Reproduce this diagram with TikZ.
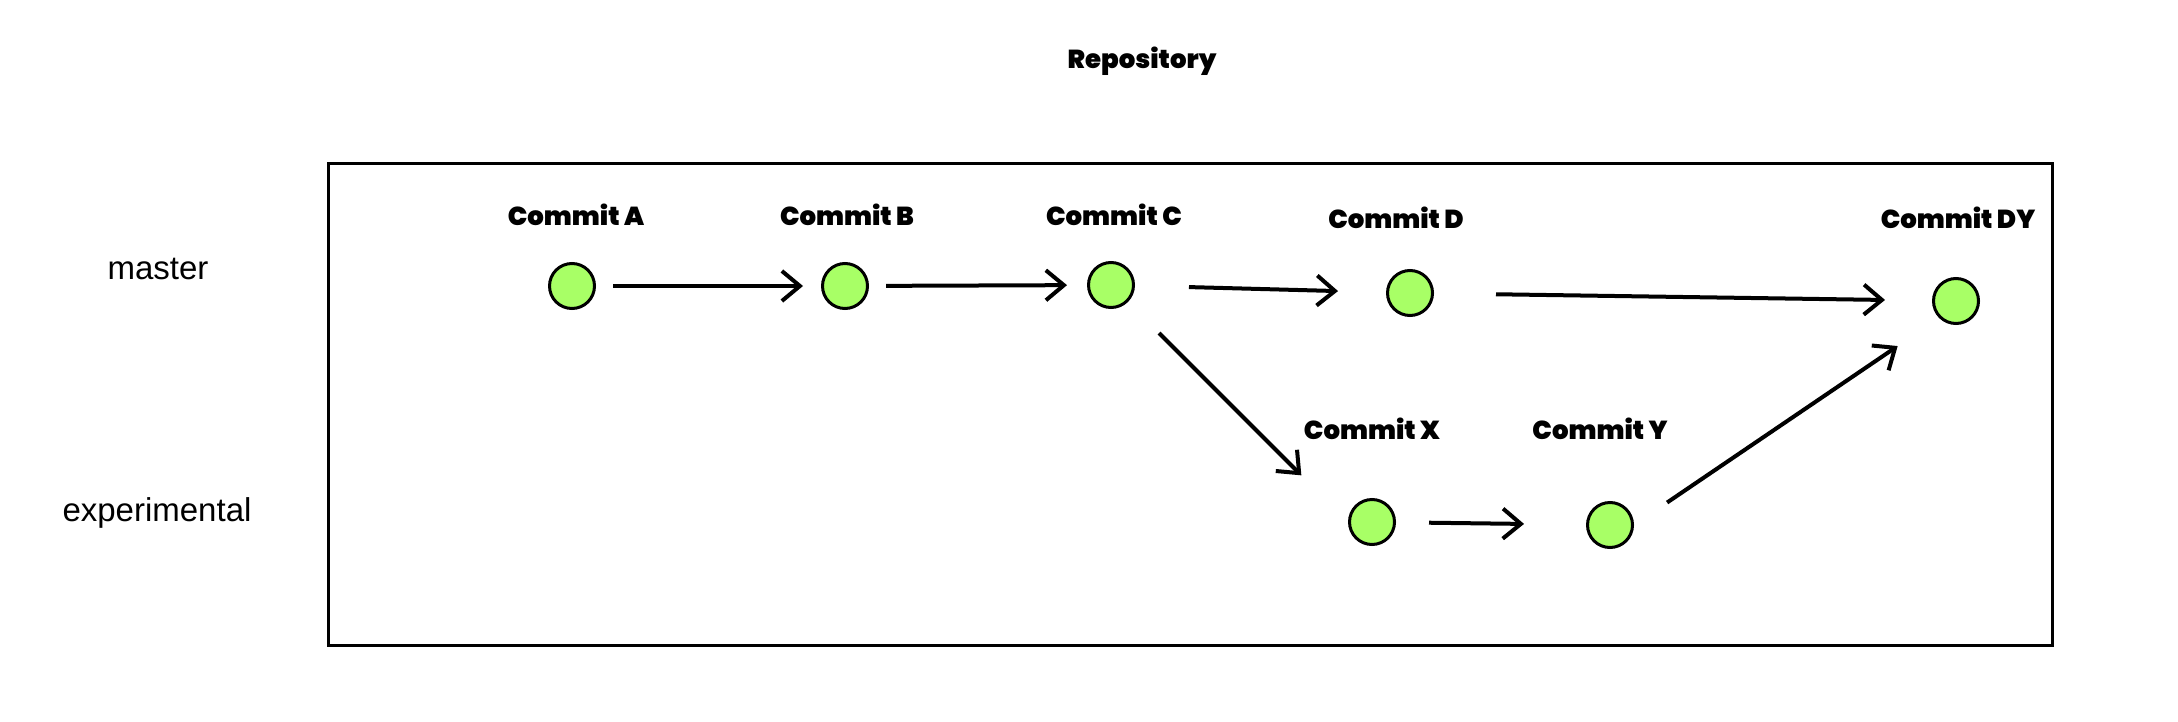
\documentclass[tikz,border=0pt]{standalone}
\usepackage{fontspec}
\setmainfont{Liberation Sans}
\IfFontExistsTF{Poppins Black}
  {\newfontfamily\commitfont{Poppins Black}}
  {\IfFontExistsTF{Poppins ExtraBold}
    {\newfontfamily\commitfont{Poppins ExtraBold}}
    {\newfontfamily\commitfont{Poppins}[UprightFont=*-Bold]}}
\usetikzlibrary{arrows.meta}
\definecolor{commitgreen}{HTML}{A8FF66}

\begin{document}
\begin{tikzpicture}[x=0.5pt,y=-0.5pt,
  commit/.style={circle, draw, line width=1.5pt, fill=commitgreen, minimum size=22.5pt, inner sep=0pt},
  commitlabel/.style={font=\commitfont\fontsize{13pt}{16pt}\selectfont, inner sep=0pt},
  branch/.style={font=\fontsize{16.5pt}{20pt}\selectfont, inner sep=0pt},
  link/.style={line width=2pt, -{Straight Barb[length=9pt, width=15pt, line width=2pt]}}]
  \useasboundingbox (0,0) rectangle (2178,722);

  \node [commitlabel] (title) at (1142,61) {Repository};
  \draw [line width=1.5pt] (328,163) rectangle (2052,645);

  \node [branch] (master) at (158,269) {master};
  \node [branch] (experimental) at (157,513) {experimental};

  %% commits and their labels
  \foreach \n/\x/\y/\lx/\ly in {A/572/286/576/215, B/845/286/847/215, C/1111/285/1114/215,
    D/1410/293/1396/218, DY/1956/301/1958/218, X/1372/522/1372/429, Y/1610/525/1600/429} {
    \node [commit] (\n) at (\x,\y) {};
    \node [commitlabel] (l\n) at (\lx,\ly) {Commit \n};
  }

  %% master
  \draw [link, shorten <=8.5pt, shorten >=9pt] (A) -- (B);
  \draw [link, shorten <=8.5pt, shorten >=10pt] (B) -- (C);
  \draw [link, shorten <=27pt, shorten >=24pt] (C) -- (D);
  \draw [link, shorten <=31pt, shorten >=23.5pt] (D) -- (DY);
  %% experimental
  \draw [link, shorten <=22pt, shorten >=33pt] (C.-45) -- (X.west);
  \draw [link, shorten <=16.5pt, shorten >=31pt] (X) -- (Y);
  \draw [link, shorten <=20pt, shorten >=25pt] (Y.east) -- (DY.-135);

\end{tikzpicture}
\end{document}
